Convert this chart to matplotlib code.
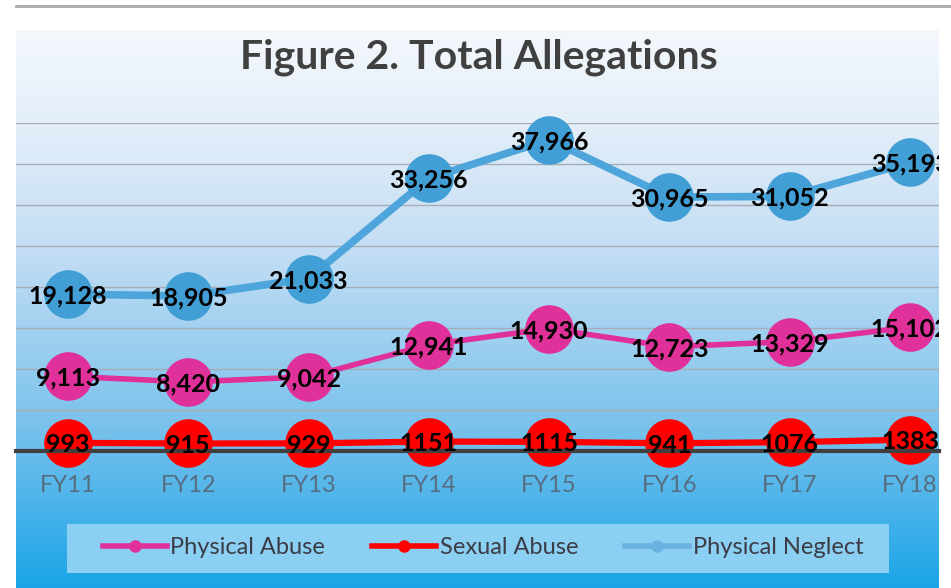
import numpy as np
import matplotlib.pyplot as plt
from matplotlib.colors import LinearSegmentedColormap
from matplotlib.patches import Rectangle
from matplotlib.lines import Line2D

years = ["FY11", "FY12", "FY13", "FY14", "FY15", "FY16", "FY17", "FY18"]
physical_abuse = [9113, 8420, 9042, 12941, 14930, 12723, 13329, 15102]
sexual_abuse = [993, 915, 929, 1151, 1115, 941, 1076, 1383]
physical_neglect = [19128, 18905, 21033, 33256, 37966, 30965, 31052, 35193]

W, H = 951, 588
FONT = "Lato"


def px(x0, y0, x1, y1):
    # pixel box (top-left origin) -> figure fraction rect
    return [x0 / W, 1 - y1 / H, (x1 - x0) / W, (y1 - y0) / H]


fig = plt.figure(figsize=(W / 100, H / 100), dpi=100)

# gradient background of the chart area
bg = fig.add_axes(px(16, 30, 939, 588), zorder=0)
cmap = LinearSegmentedColormap.from_list(
    "bg", [(0, "#f4f8fd"), (0.17, "#e3eef9"), (0.4, "#c2ddf4"),
           (0.7, "#7cc3ec"), (0.88, "#42b1ea"), (1, "#1aa4e6")])
bg.imshow(np.linspace(0, 1, 256).reshape(-1, 1), aspect="auto", cmap=cmap,
          extent=[0, 1, 0, 1])
bg.axis("off")

fig.add_artist(Line2D([16 / W, 1], [1 - 5.5 / H] * 2, color="#a8a8a8", lw=2))

ax = fig.add_axes(px(16, 123, 939, 451), zorder=1)
ax.patch.set_visible(False)
ax.set_xlim(-0.432, 7.241)
ax.set_ylim(0, 40000)
ax.set_yticks(range(5000, 40001, 5000))
ax.grid(axis="y", color="#a7adb5", lw=1)
ax.tick_params(left=False, labelleft=False, bottom=False, pad=14)
for s in ["top", "left", "right"]:
    ax.spines[s].set_visible(False)
ax.spines["bottom"].set_color("#404040")
ax.spines["bottom"].set_linewidth(3)
ax.set_xticks(range(len(years)), years, fontsize=17, color="#566d80", family=FONT)

x = np.arange(len(years))
series = [
    (physical_abuse, "#e0309a", "#e0309a", 4, True),
    (sexual_abuse, "#ff0000", "#ff0000", 4.5, False),
    (physical_neglect, "#4ea5dc", "#419fd6", 5.5, True),
]
for vals, lc, mc, lw, commas in series:
    ax.plot(x, vals, color=lc, lw=lw, marker="o", ms=35, mfc=mc, mec=mc, mew=0,
            clip_on=False, solid_capstyle="round")

for vals, lc, mc, lw, commas in series:
    for i, v in enumerate(vals):
        label = f"{v:,}" if commas else str(v)
        t = ax.text(i, v, label, ha="center", va="center_baseline", fontsize=18,
                    fontweight="bold", family=FONT, color="black", zorder=5)
        t.set_clip_on(True)
        t.set_clip_box(bg.bbox)

fig.text(479 / W, 1 - 57 / H, "Figure 2. Total Allegations", ha="center",
         va="center", fontsize=29.5, fontweight="bold", color="#404040", family=FONT)

# legend box
fig.add_artist(Rectangle((67 / W, 1 - 573 / H), 822 / W, 49 / H,
                         transform=fig.transFigure, facecolor="#8bcff2", edgecolor="none"))
handles = [Line2D([], [], color=lc, lw=4, marker="o", ms=8) for _, lc, _, _, _ in series]
handles[2].set_color("#6ab2e2")
leg = fig.legend(handles, ["Physical Abuse", "Sexual Abuse", "Physical Neglect"],
                 loc="center", bbox_to_anchor=(483 / W, 1 - 548 / H), ncol=3,
                 frameon=False, handlelength=2.7, handletextpad=0.15,
                 columnspacing=2.0, prop={"family": FONT, "size": 17})
for txt in leg.get_texts():
    txt.set_color("#3c3c46")

fig.savefig("out.png", dpi=100)
